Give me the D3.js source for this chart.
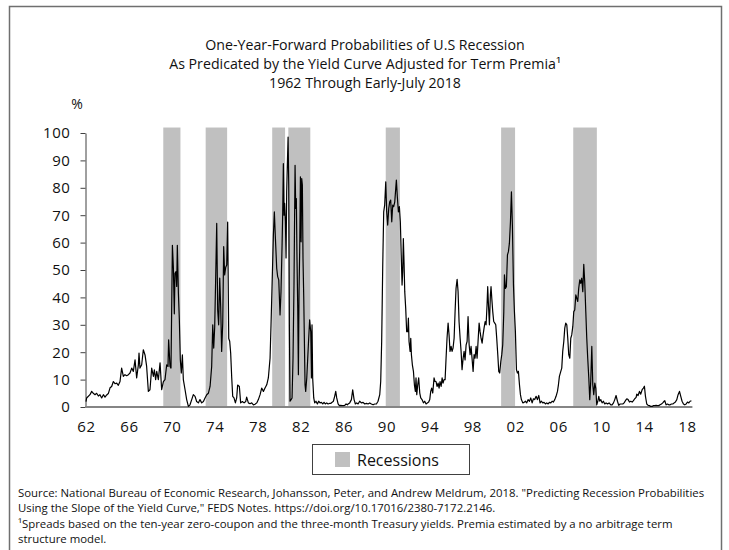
<!DOCTYPE html>
<html>
<head>
<meta charset="utf-8">
<script src="https://cdn.jsdelivr.net/npm/d3@7"></script>
<style>
  body { margin: 0; background: #fff; }
  svg { display: block; }
</style>
</head>
<body>
<div id="chart"></div>
<script>
// probability of recession, %, with decimal-year dates
const years = [
  1962.00,1962.06,1962.37,1962.53,1962.68,1962.84,1962.99,1963.15,1963.30,1963.46,1963.62,1963.77,1963.93,
  1964.08,1964.24,1964.39,1964.55,1964.70,1964.86,1965.01,1965.17,1965.32,1965.48,1965.63,1965.79,1965.95,
  1966.10,1966.26,1966.41,1966.57,1966.72,1966.88,1966.94,1967.03,1967.19,1967.34,1967.50,1967.65,1967.81,
  1967.96,1968.12,1968.28,1968.37,1968.49,1968.59,1968.74,1968.90,1969.05,1969.21,1969.36,1969.52,1969.64,
  1969.70,1969.83,1969.92,1970.05,1970.14,1970.23,1970.29,1970.39,1970.45,1970.51,1970.61,1970.70,1970.79,
  1970.88,1970.98,1971.07,1971.23,1971.38,1971.54,1971.69,1971.85,1972.00,1972.16,1972.31,1972.47,1972.62,
  1972.78,1972.94,1973.09,1973.25,1973.40,1973.56,1973.71,1973.81,1973.90,1973.99,1974.08,1974.18,1974.27,
  1974.36,1974.46,1974.55,1974.64,1974.74,1974.83,1974.92,1975.02,1975.11,1975.20,1975.30,1975.39,1975.48,
  1975.58,1975.67,1975.79,1975.92,1976.04,1976.13,1976.29,1976.41,1976.57,1976.73,1976.88,1976.97,1977.13,
  1977.28,1977.44,1977.60,1977.75,1977.91,1978.06,
  1978.22,1978.37,1978.53,1978.68,1978.84,1978.99,1979.15,1979.24,1979.33,1979.46,1979.55,1979.65,1979.77,
  1979.86,1979.96,1980.08,1980.17,1980.27,1980.33,1980.39,1980.45,1980.51,1980.58,1980.64,1980.70,1980.76,
  1980.83,1980.89,1980.95,1981.01,1981.11,1981.20,1981.29,1981.38,1981.48,1981.54,1981.60,1981.66,1981.73,
  1981.79,1981.85,1981.91,1981.98,1982.04,1982.10,1982.16,1982.22,1982.29,1982.35,1982.41,1982.47,1982.57,
  1982.66,1982.75,1982.84,1982.94,1983.00,1983.06,1983.12,1983.22,1983.31,1983.43,1983.56,1983.68,1983.81,
  1983.93,1984.06,1984.18,1984.30,1984.43,1984.55,1984.68,1984.80,1984.93,1985.05,1985.17,1985.27,1985.36,
  1985.49,1985.61,1985.73,1985.86,1985.98,1986.11,1986.23,1986.36,
  1986.42,1986.57,1986.73,1986.85,1986.98,1987.10,1987.22,1987.35,1987.50,1987.66,1987.82,1987.97,1988.13,
  1988.28,1988.44,1988.59,1988.75,1988.90,1989.06,1989.21,1989.37,1989.46,1989.55,1989.65,1989.74,1989.83,
  1989.93,1990.02,1990.11,1990.21,1990.30,1990.39,1990.49,1990.58,1990.67,1990.77,1990.86,1990.92,1991.01,
  1991.11,1991.20,1991.29,1991.39,1991.45,1991.51,1991.57,1991.64,1991.70,1991.79,1991.88,1991.98,1992.04,
  1992.10,1992.20,1992.26,1992.32,1992.41,1992.51,1992.60,1992.69,1992.75,1992.82,1992.91,1993.00,1993.10,
  1993.19,1993.31,1993.44,1993.56,1993.69,1993.81,1993.93,1994.03,1994.12,1994.21,1994.31,1994.43,1994.52,
  1994.62,1994.71,1994.81,1994.90,1994.99,1995.09,1995.18,1995.27,1995.36,1995.46,1995.55,1995.64,1995.74,
  1995.83,1995.92,1996.02,1996.11,1996.20,1996.30,1996.39,1996.48,1996.58,1996.67,1996.76,1996.86,1996.95,
  1997.04,1997.14,1997.23,1997.32,1997.42,1997.51,1997.60,1997.70,1997.79,1997.88,1997.97,1998.07,1998.16,
  1998.25,1998.35,1998.44,1998.53,1998.63,1998.72,1998.81,1998.91,1999.00,1999.09,1999.19,1999.28,1999.37,
  1999.43,1999.50,1999.59,1999.68,1999.74,1999.81,1999.90,1999.99,2000.09,2000.18,2000.27,2000.37,2000.46,
  2000.55,2000.65,2000.74,2000.83,2000.93,2000.99,2001.08,2001.17,2001.27,2001.36,2001.45,2001.55,2001.64,
  2001.73,2001.83,2001.92,2002.01,2002.11,2002.20,2002.29,2002.39,2002.48,2002.57,2002.70,
  2002.82,2002.94,2003.07,2003.19,2003.32,2003.44,2003.57,2003.69,2003.81,2003.94,2004.06,2004.19,2004.31,
  2004.44,2004.56,2004.68,2004.81,2004.93,2005.06,2005.18,2005.31,2005.43,2005.55,2005.68,2005.80,2005.93,
  2006.02,2006.11,2006.24,2006.33,2006.42,2006.52,2006.61,2006.70,2006.80,2006.89,2006.98,2007.08,2007.17,
  2007.26,2007.36,2007.45,2007.54,2007.64,2007.73,2007.82,2007.91,2008.01,2008.10,2008.19,2008.29,2008.38,
  2008.47,2008.57,2008.66,2008.75,2008.85,2008.94,2009.03,2009.13,2009.22,2009.31,2009.41,2009.50,2009.59,
  2009.69,2009.78,2009.87,2009.97,2010.09,2010.21,2010.34,2010.46,2010.59,2010.74,2010.90,
  2011.02,2011.15,2011.27,2011.39,2011.52,2011.64,2011.77,2011.89,2012.02,2012.14,2012.26,2012.39,2012.51,
  2012.64,2012.76,2012.89,2013.01,2013.13,2013.26,2013.32,2013.44,2013.57,2013.69,2013.82,2013.94,2014.03,
  2014.13,2014.25,2014.38,2014.50,2014.62,2014.75,2014.87,2015.00,2015.12,2015.25,2015.37,2015.49,2015.62,
  2015.74,2015.87,2015.93,2016.05,2016.18,2016.30,2016.43,2016.55,2016.68,2016.80,2016.92,2017.05,2017.17,
  2017.30,2017.42,2017.54,2017.67,2017.79,2017.92,2018.04,2018.17,2018.29,2018.41
];
const probs = [
  2,3.3,4.5,5.7,5,4.5,5,4,4.5,3.3,4.5,3.6,4.4,
  4.9,7,7.5,9.3,8.5,8.7,7.9,9.3,14.2,11.2,11.8,11.4,11.8,
  12.4,14.2,13,17.2,10.6,15.4,19.7,14.2,15.4,20.9,19,14.8,5.7,
  6.3,14.2,11.2,13.6,10,13,10,16.1,6.3,9.3,10,15.4,14.8,
  24.5,14.8,14.2,59,51,34,48.8,49.4,44,59,41.5,31.6,17.2,
  12.4,19,10,6.3,2.7,0.2,0.8,2.7,4.5,3.9,2,1.5,2.7,
  1.5,2,3.3,4.5,5,7.5,14.8,30,21.5,29,46.4,67,35.4,
  30,47,36.7,20.3,30.6,58.5,48.2,51,51.8,67.5,25,24,19.7,
  10.6,3.9,3.3,1.5,3.3,8,7.5,1.5,2,1.5,2,3.6,1.5,
  1.2,1.5,0.8,1,1.5,2.7,
  4.5,6.9,5.7,6.9,8.1,10.6,17.8,30,43.3,62.7,71.2,61.5,50.6,
  47.6,46.4,33.6,42.1,59.1,71.2,88.8,70,74.3,67.6,54.4,78.5,88.2,
  98.5,81,30,2.1,2.7,3.3,17.8,44.5,88.2,72.5,76.1,54.2,36,
  11.8,42.1,56.7,84,60.3,83.4,81,54.2,39.7,23.9,8.1,5.7,10.6,
  17.8,25.1,31.8,27.5,10.6,30,10.6,3.3,1.5,2.1,1.1,2.1,1.5,
  1.7,1.1,1.7,1.1,1.5,1.1,1.3,1.3,1.7,2.1,3.9,5.7,3.3,
  1.1,0.5,0.6,0.5,0.5,0.6,1.1,0.8,
  1.1,1.5,2.7,6.3,2.7,1.1,1.5,1.1,2.1,1.5,1.7,1.1,1.3,
  1.1,1.5,1.1,0.8,1.1,1.1,2.1,4.5,9.3,23.9,51.8,71.2,73.7,
  82.2,71.2,66.4,72.5,74.9,75.5,67.6,73.7,73.1,74.9,79.7,82.8,76.7,
  71.2,73.1,67.6,53,44.5,49.4,61.5,51.8,42.1,36,27.5,27.5,32.4,
  23.9,20.3,25.1,19.1,15.4,13,8.1,5.7,10.6,4.5,8.1,10.6,5.1,
  3.3,2.7,1.5,2.1,1.1,1.5,1.8,2.7,5.7,6.9,5.1,10.6,9.3,
  9.3,7.5,8.7,6.9,9.3,7.5,10.6,8.7,10,10,17.8,25.1,30.6,
  26.3,20.3,22.1,20.3,21.5,25.1,34.8,43.3,46.6,42.1,31.2,25.1,20.3,
  13.6,17.8,20.3,17.2,22.7,23.9,33,22.7,19.1,22.1,17.8,13,19.1,
  17.8,22.1,17.8,23.9,30.6,27.5,25.1,23.3,26.3,28.8,31.2,30,37.3,
  43.9,37.3,30,40.9,43.9,39.7,34.8,31.2,30.6,30,25.1,19.1,13,
  12.4,16.6,19.1,22.7,34.8,48.2,43.3,43.9,55.5,56.7,59.7,67.6,78.5,
  66.4,44.5,34.8,27.5,13.6,12.4,13,8.1,4.5,2.7,1.5,
  1.7,2.1,1.5,2.7,2.1,3.3,1.5,3,2.7,3.9,2.7,4.2,1.5,
  2.1,1.5,1.7,1.1,1.5,1.1,1.7,1.5,2.1,1.8,2.7,3.9,5.7,
  8.1,11.2,13,14.2,20.3,23.9,28.8,30.6,30,25.1,19.1,17.8,25.1,
  26.3,29.4,34.8,35.4,40.9,39.7,38.5,43.3,46.4,45.1,47,42.1,52.1,
  45.8,34.8,25.1,17.8,10.6,2.7,9.3,22.1,8.1,4.5,8.7,6.9,0.8,
  2.1,3.9,2.1,2.7,1.5,2.1,1.1,1.5,1.1,1.5,0.8,
  0.8,1.5,2.7,4.2,2.1,0.6,1.1,1.1,1.1,1.5,2.3,3,2.7,
  1.8,2.1,1.8,2.3,3,3.5,4.7,4.2,5.7,4.7,6.3,6.9,7.6,
  3.9,1.1,0.6,0.5,0.2,0.2,0.5,0.5,0.6,0.5,0.5,0.8,1.1,
  1.5,2.1,2.3,0.8,1.1,0.8,0.8,1.1,1.1,1.5,1.8,2.7,4.5,
  5.7,3.9,2.1,1.1,0.8,1.1,1.8,1.5,2.1,2.3
];

// recession shading as it appears on the chart (decimal years)
const recessionStart = [1969.2, 1973.15, 1979.35, 1980.85, 1989.93, 2000.68, 2007.4];
const recessionEnd   = [1970.8, 1975.15, 1980.55, 1982.9, 1991.25, 2001.98, 2009.6];

const xTicks = [1962,1966,1970,1974,1978,1982,1986,1990,1994,1998,2002,2006,2010,2014,2018];
const yTicks = [0,10,20,30,40,50,60,70,80,90,100];

const titleLines = [
  "One-Year-Forward Probabilities of U.S Recession",
  "As Predicated by the Yield Curve Adjusted for Term Premia\u00b9",
  "1962 Through Early-July 2018"
];
const noteLines = [
  "Source: National Bureau of Economic Research, Johansson, Peter, and Andrew Meldrum, 2018. \"Predicting Recession Probabilities",
  "Using the Slope of the Yield Curve,\" FEDS Notes. https://doi.org/10.17016/2380-7172.2146.",
  "\u00b9Spreads based on the ten-year zero-coupon and the three-month Treasury yields. Premia estimated by a no arbitrage term",
  "structure model."
];

const width = 729, height = 550;
const font = "'Open Sans', 'DejaVu Sans', sans-serif";

const svg = d3.select("#chart").append("svg")
  .attr("width", width)
  .attr("height", height)
  .style("font-family", font);

// frame
svg.append("rect")
  .attr("x", 9.5).attr("y", 6.5)
  .attr("width", 712).attr("height", 570)
  .attr("fill", "none")
  .attr("stroke", "#6f6f6f")
  .attr("stroke-width", 1.5);

// title
svg.append("g")
  .selectAll("text")
  .data(titleLines)
  .join("text")
  .attr("x", 365)
  .attr("y", (d, i) => 45 + i * 19)
  .attr("dy", "0.35em")
  .attr("text-anchor", "middle")
  .attr("font-size", 14.2)
  .attr("fill", "#111")
  .text(d => d);

const x = d3.scaleLinear().domain([1962, 2018]).range([86, 687]);
const y = d3.scaleLinear().domain([0, 100]).range([407, 133]);

// recession bars
svg.append("g")
  .selectAll("rect")
  .data(recessionStart)
  .join("rect")
  .attr("x", d => x(d))
  .attr("width", (d, i) => x(recessionEnd[i]) - x(d))
  .attr("y", y(102))
  .attr("height", y(0) - y(102))
  .attr("fill", "#c0c0c0");

// y axis
svg.append("g")
  .attr("transform", "translate(85.5,0)")
  .call(d3.axisLeft(y).tickValues(yTicks).tickSize(5).tickSizeOuter(0).tickPadding(10))
  .call(g => g.select(".domain").attr("stroke", "#404040"))
  .call(g => g.selectAll(".tick line").attr("stroke", "#404040"))
  .call(g => g.selectAll("text")
    .attr("font-family", font)
    .attr("font-size", 15)
    .attr("letter-spacing", 0.6)
    .attr("fill", "#111"));

svg.append("text")
  .attr("x", 77).attr("y", 104)
  .attr("dy", "0.35em")
  .attr("text-anchor", "middle")
  .attr("font-size", 14)
  .attr("fill", "#111")
  .text("%");

// x axis
svg.append("g")
  .attr("transform", "translate(0,407)")
  .call(d3.axisBottom(x).tickValues(xTicks).tickSize(0).tickFormat(d => String(d).slice(2)))
  .call(g => g.select(".domain").remove())
  .call(g => g.selectAll("text")
    .attr("y", 20)
    .attr("dy", "0.35em")
    .attr("font-family", font)
    .attr("font-size", 15)
    .attr("letter-spacing", 0.6)
    .attr("fill", "#111"));

svg.append("line")
  .attr("x1", x(years[0]) - 1).attr("x2", x(years[years.length - 1]) + 1)
  .attr("y1", y(0)).attr("y2", y(0))
  .attr("stroke", "#858585")
  .attr("stroke-width", 2);

// probability line
const line = d3.line()
  .x((d, i) => x(years[i]))
  .y(d => y(d));

svg.append("path")
  .datum(probs)
  .attr("fill", "none")
  .attr("stroke", "#000")
  .attr("stroke-width", 1.2)
  .attr("stroke-linejoin", "round")
  .attr("d", line);

// legend
const legend = svg.append("g");
legend.append("rect")
  .attr("x", 312.5).attr("y", 444.5)
  .attr("width", 157).attr("height", 30)
  .attr("fill", "#fff")
  .attr("stroke", "#404040");
legend.append("rect")
  .attr("x", 335).attr("y", 452)
  .attr("width", 15).attr("height", 15)
  .attr("fill", "#c0c0c0");
legend.append("text")
  .attr("x", 357).attr("y", 460)
  .attr("dy", "0.35em")
  .attr("font-size", 16)
  .attr("fill", "#111")
  .text("Recessions");

// notes
svg.append("g")
  .selectAll("text")
  .data(noteLines)
  .join("text")
  .attr("x", 18)
  .attr("y", (d, i) => 493 + i * 15.5)
  .attr("dy", "0.35em")
  .attr("font-size", 11.4)
  .attr("fill", "#111")
  .text(d => d);
</script>
</body>
</html>
